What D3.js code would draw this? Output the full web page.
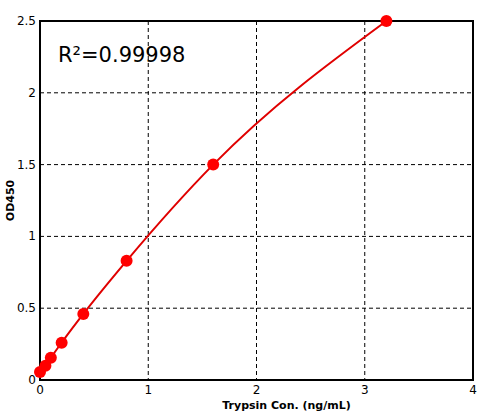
<!DOCTYPE html>
<html>
<head>
<meta charset="UTF-8">
<script src="https://cdnjs.cloudflare.com/ajax/libs/d3/7.8.5/d3.min.js"></script>
<style>
  body { margin: 0; background: #fff; }
  text { font-family: "DejaVu Sans", sans-serif; }
</style>
</head>
<body>
<svg width="497" height="415"></svg>
<script>
    const conc = [0, 0.05, 0.1, 0.2, 0.4, 0.8, 1.6, 3.2];
    const od = [0.055, 0.1, 0.155, 0.26, 0.46, 0.83, 1.5, 2.5];
    const xTicks = [0, 1, 2, 3, 4];
    const yTicks = [0, 0.5, 1, 1.5, 2, 2.5];

    const svg = d3.select("svg");
    const pLeft = 40, pRight = 473, pTop = 21, pBottom = 380;
    const x = d3.scaleLinear().domain([0, 4]).range([pLeft, pRight]);
    const y = d3.scaleLinear().domain([0, 2.5]).range([pBottom, pTop]);

    // grid
    const grid = svg.append("g").attr("stroke", "#000").attr("stroke-dasharray", "4,3").attr("stroke-width", 1);
    xTicks.slice(1, -1).forEach(t => grid.append("line").attr("x1", x(t)).attr("x2", x(t)).attr("y1", pTop).attr("y2", pBottom));
    yTicks.slice(1, -1).forEach(t => grid.append("line").attr("x1", pLeft).attr("x2", pRight).attr("y1", y(t)).attr("y2", y(t)));

    svg.append("rect").attr("x", pLeft).attr("y", pTop).attr("width", pRight - pLeft).attr("height", pBottom - pTop)
        .attr("fill", "none").attr("stroke", "#000").attr("stroke-width", 2);

    svg.selectAll(".xt").data(xTicks).enter().append("text")
        .attr("x", d => x(d)).attr("y", pBottom + 14).attr("text-anchor", "middle")
        .attr("font-size", 12).text(d => d);
    svg.selectAll(".yt").data(yTicks).enter().append("text")
        .attr("x", pLeft - 4).attr("y", d => y(d) + 4).attr("text-anchor", "end")
        .attr("font-size", 12).text(d => d);

    svg.append("text").attr("x", (pLeft + pRight) / 2 + 30).attr("y", 409).attr("text-anchor", "middle")
        .attr("font-size", 11).attr("font-weight", "bold").text("Trypsin Con. (ng/mL)");
    svg.append("text").attr("transform", `translate(14,${(pTop + pBottom) / 2}) rotate(-90)`)
        .attr("text-anchor", "middle").attr("font-size", 11).attr("font-weight", "bold").text("OD450");

    svg.append("text").attr("x", 58).attr("y", 62).attr("font-size", 21)
        .attr("font-family", "Liberation Sans, Arial, sans-serif").text("R²=0.99998");

    const data = conc.map((c, i) => [c, od[i]]);
    svg.append("path").datum(data)
        .attr("d", d3.line().x(d => x(d[0])).y(d => y(d[1])).curve(d3.curveMonotoneX))
        .attr("fill", "none").attr("stroke", "#e00000").attr("stroke-width", 2);
    svg.selectAll(".pt").data(data).enter().append("circle")
        .attr("cx", d => x(d[0])).attr("cy", d => y(d[1])).attr("r", 6).attr("fill", "#ff0000");
</script>
</body>
</html>
